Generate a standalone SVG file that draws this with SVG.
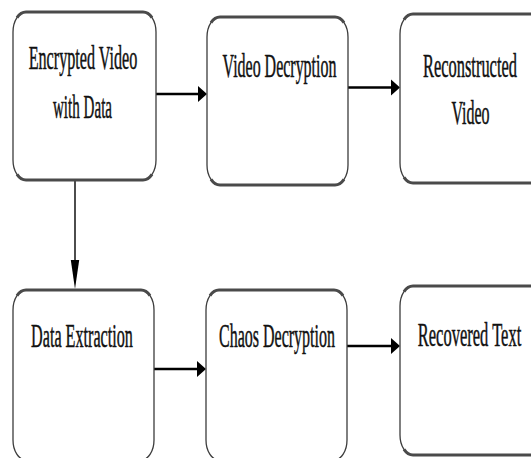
<svg xmlns="http://www.w3.org/2000/svg" width="531" height="458" viewBox="0 0 531 458">
<style>
.box{fill:#fff;stroke:#3c3c3c;stroke-width:1.3}
.edge{fill:none;stroke:#4a4a4a;stroke-width:3}
.lbl{font-family:"Liberation Serif","Times New Roman",serif;font-size:33px;fill:#111;stroke:#111;stroke-width:0.5;text-anchor:middle}
.conn{stroke:#000;fill:none}
.head{fill:#000}
</style>
<rect width="531" height="458" fill="#fff"/>
<g id="connectors">
<line class="conn" x1="156" y1="94" x2="200" y2="94" stroke-width="2.6"/>
<polygon class="head" points="198,86 207,94 198,102"/>
<line class="conn" x1="348" y1="87.5" x2="393" y2="87.5" stroke-width="2.6"/>
<polygon class="head" points="391,79.5 400,87.5 391,95.5"/>
<line class="conn" x1="154" y1="369" x2="199" y2="369" stroke-width="2.6"/>
<polygon class="head" points="197,361 206,369 197,377"/>
<line class="conn" x1="347" y1="346" x2="393" y2="346" stroke-width="2.6"/>
<polygon class="head" points="391,338 400,346 391,354"/>
<line class="conn" x1="75" y1="180" x2="75" y2="264" stroke-width="1.4"/>
<polygon class="head" points="70.8,260 79.2,260 75,289"/>
</g>
<g id="n1">
<rect class="box" x="13" y="12" width="143" height="168" rx="13" ry="20"/>
<path class="edge" d="M17,17.6 A13,20 0 0 1 26,12 H143 A13,20 0 0 1 152,17.6"/>
<path class="edge" d="M17,174.4 A13,20 0 0 0 26,180 H143 A13,20 0 0 0 152,174.4"/>
<text class="lbl" transform="translate(83,69) scale(0.49,1)">Encrypted Video</text>
<text class="lbl" transform="translate(82.5,118) scale(0.457,1)">with Data</text>
</g>
<g id="n2">
<rect class="box" x="207" y="17" width="141" height="168" rx="13" ry="20"/>
<path class="edge" d="M211,22.6 A13,20 0 0 1 220,17 H335 A13,20 0 0 1 344,22.6"/>
<path class="edge" d="M211,179.4 A13,20 0 0 0 220,185 H335 A13,20 0 0 0 344,179.4"/>
<text class="lbl" transform="translate(279.5,77) scale(0.484,1)">Video Decryption</text>
</g>
<g id="n3">
<rect class="box" x="400" y="14" width="143" height="169" rx="13" ry="20"/>
<path class="edge" d="M404,19.6 A13,20 0 0 1 413,14 H530 A13,20 0 0 1 539,19.6"/>
<path class="edge" d="M404,177.4 A13,20 0 0 0 413,183 H530 A13,20 0 0 0 539,177.4"/>
<text class="lbl" transform="translate(470,77) scale(0.498,1)">Reconstructed</text>
<text class="lbl" transform="translate(470.5,124) scale(0.484,1)">Video</text>
</g>
<g id="n4">
<rect class="box" x="13" y="290" width="141" height="170" rx="13" ry="20"/>
<path class="edge" d="M17,295.6 A13,20 0 0 1 26,290 H141 A13,20 0 0 1 150,295.6"/>
<text class="lbl" transform="translate(82,347) scale(0.49,1)">Data Extraction</text>
</g>
<g id="n5">
<rect class="box" x="206" y="290" width="141" height="170" rx="13" ry="20"/>
<path class="edge" d="M210,295.6 A13,20 0 0 1 219,290 H334 A13,20 0 0 1 343,295.6"/>
<text class="lbl" transform="translate(277,347) scale(0.485,1)">Chaos Decryption</text>
</g>
<g id="n6">
<rect class="box" x="400" y="286" width="143" height="169" rx="13" ry="20"/>
<path class="edge" d="M404,291.6 A13,20 0 0 1 413,286 H530 A13,20 0 0 1 539,291.6"/>
<path class="edge" d="M404,449.4 A13,20 0 0 0 413,455 H530 A13,20 0 0 0 539,449.4"/>
<text class="lbl" transform="translate(469.5,346) scale(0.5,1)">Recovered Text</text>
</g>
</svg>
